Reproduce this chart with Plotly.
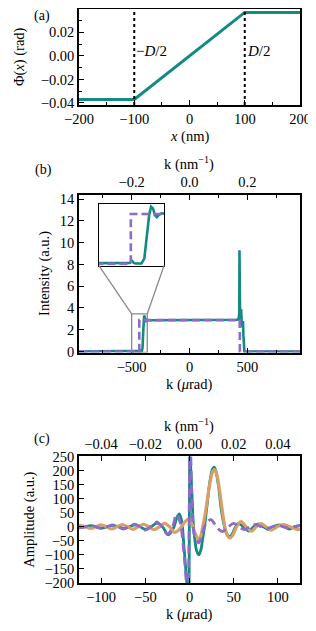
import plotly.graph_objects as go

# ---------------- data ----------------
# (a) phase profile
D_nm = 200
x_a = [-200, -100, 100, 200]
phi_a = [-0.037, -0.037, 0.037, 0.037]

# (b) intensity vs k (µrad)
k_b_teal = [-955, -440, -436, -432, -428, -424, -412, -406, -400, -396, -392, -388, -384,
            -380, -375, -370, -360, 0, 400, 415, 425, 430, 432, 434, 438, 442, 446, 449,
            452, 456, 462, 466, 470, 474, 955]
I_b_teal = [0, 0.02, 0.05, 0.18, 0.05, 0.02, 0.02, 0.3, 1.8, 2.8, 3.3, 3.2, 2.8,
            2.7, 2.85, 2.92, 2.87, 2.87, 2.87, 2.92, 3.05, 3.5, 9.3, 3.0, 2.2, 2.6, 3.9, 3.2,
            2.4, 2.6, 2.8, 1.5, 0.2, 0, 0]
k_b_purple = [-955, -434, -434, 435, 435, 955]
I_b_purple = [0, 0, 2.88, 2.88, 0, 0]

# (c) amplitude vs k (µrad)
k_c_teal = [-125, -118, -112, -105.5, -99, -93, -87, -80.5, -74, -68, -62, -56, -50, -43.5,
            -37, -30.5, -24, -17.5, -14, -11.5, -9.5, -8, -6.5, -5, -3.5, -2, -1, 0.5, 1, 2,
            3, 4.5, 6, 8, 10.5, 13, 15, 17, 20, 23, 26, 28, 30, 33, 36, 39.5, 42, 45, 48, 51,
            55, 61, 67, 72.5, 78, 83.5, 89, 95, 101, 107, 113, 119, 125]
A_c_teal = [-3, 0, 4, 0, -5, 0, 5, 0, -6, 0, 7, 0, -9, 0,
            13, 0, -29, 0, 35, 46, 30, 0, -60, -120, -180, -240, -400, 400, 240, 170,
            100, 0, -45, -85, -100, -80, -40, 0, 80, 160, 205, 212, 195, 140, 60, 0, -25, -35, -28, -8,
            12, 0, -15, 0, 10, 0, -10, 0, 7, 0, -8, 0, 5]

k_c_orange = [-125, -118, -112, -106, -100, -94, -88, -82, -76, -70, -64, -58, -52, -46, -40,
              -34, -28, -22.5, -17, -13, -9, -5, -1, 2.5, 6, 10.5, 13, 15, 18, 21, 24, 26.5,
              28.5, 31, 34, 37, 40, 43, 46, 49, 52.5, 55, 58.5, 64, 70, 75.5, 81, 86.5, 92,
              99, 106, 114, 122, 125]
A_c_orange = [5, 0, -6, 0, 7, 0, -8, 0, 8, 0, -9, 0, 9, 0, -10,
              0, 12, 0, -20, -14, 0, 18, 27, 12, -20, -47, -30, 0, 50, 115, 170, 198,
              203, 185, 130, 60, 0, -32, -40, -30, -5, 10, 18, 0, -16, 0, 11, 0, -12,
              0, 8, 0, -10, -8]

k_c_purple = [-125, -118.5, -112, -106, -100, -93.5, -87, -81, -75, -68.5, -62, -56, -50, -43.5,
              -37, -31, -25, -19, -15, -12, -9.5, -7, -5, -3.5, -2, 0.8, 1.5, 2.5, 4, 6, 8.5,
              10.5, 13, 17, 21, 24.5, 28, 31, 34, 37.5, 41, 44, 50, 56, 62, 68.5, 75, 81, 87,
              93.5, 100, 106, 112, 118.5, 125]
A_c_purple = [-4, 0, 5, 0, -6, 0, 7, 0, -8, 0, 9, 0, -12, 0,
              17, 0, -27, 0, 44, 30, 0, -70, -140, -210, -400, 400, 250, 120, 0, -35, -52,
              -57, -40, 0, 20, 25, 12, 0, -12, -17, -8, 0, 12, 0, -10, 0, 8, 0, -7,
              0, 6, 0, -5, 0, 4]

# axis settings / conversion
wavelength_nm = 0.0025      # k[nm^-1] = k[µrad]*1e-6 / wavelength_nm
urad_per_invnm = 1e6 * wavelength_nm
xr_a = [-200, 200]
yr_a = [-0.0417, 0.0399]
xr_b = [-955, 955]
yr_b = [-0.1, 14.4]
inset_x = [-500, -365]
inset_y = [-0.1, 3.46]
xr_c = [-125, 125]
yr_c = [-200, 250]

TEAL = "#138a82"
PURPLE = "#8c6bcc"
ORANGE = "#d8a068"
FONT = "Liberation Serif"

# The page body adds an 8 px offset; build the figure in page pixels minus it.
OFF = 8
W, H = 316 - OFF, 631 - OFF
PL, PR, PT, PB = 79 - OFF, 300.5 - OFF, 9 - OFF, 583.3 - OFF   # plot-area box

def dom_x(a, b):   # page pixels -> domain
    return [(a - OFF - PL) / (PR - PL), (b - OFF - PL) / (PR - PL)]
def dom_y(top, bottom):
    return [(PB - (bottom - OFF)) / (PB - PT), (PB - (top - OFF)) / (PB - PT)]
def paper_x(px):
    return (px - OFF - PL) / (PR - PL)
def paper_y(py):
    return (PB - (py - OFF)) / (PB - PT)

dx = dom_x(79, 300.5)
dy_a = dom_y(9, 105)
dy_b = dom_y(195, 352.7)
dy_c = dom_y(456.7, 583.3)
dx_in = dom_x(99, 164.3)
dy_in = dom_y(204, 265.7)

fig = go.Figure()

# (a)
fig.add_trace(go.Scatter(x=x_a, y=phi_a, mode="lines", line=dict(color=TEAL, width=3),
                         xaxis="x", yaxis="y", showlegend=False))
# (b) main + inset
for xa, ya in (("x2", "y2"), ("x4", "y4")):
    fig.add_trace(go.Scatter(x=k_b_teal, y=I_b_teal, mode="lines", line=dict(color=TEAL, width=2.6),
                             xaxis=xa, yaxis=ya, showlegend=False))
    fig.add_trace(go.Scatter(x=k_b_purple, y=I_b_purple, mode="lines",
                             line=dict(color=PURPLE, width=2.6, dash="8px,4px"),
                             xaxis=xa, yaxis=ya, showlegend=False))
# top axis helper for (b)
fig.add_trace(go.Scatter(x=[v / urad_per_invnm for v in xr_b], y=[0, 0], mode="lines",
                         line=dict(width=0), opacity=0, hoverinfo="skip",
                         xaxis="x3", yaxis="y2", showlegend=False))
# (c)
fig.add_trace(go.Scatter(x=k_c_teal, y=A_c_teal, mode="lines",
                         line=dict(color=TEAL, width=2.8, shape="spline", smoothing=0.8),
                         xaxis="x5", yaxis="y5", showlegend=False))
fig.add_trace(go.Scatter(x=k_c_orange, y=A_c_orange, mode="lines",
                         line=dict(color=ORANGE, width=3.2, shape="spline", smoothing=0.8),
                         xaxis="x5", yaxis="y5", showlegend=False))
fig.add_trace(go.Scatter(x=k_c_purple, y=A_c_purple, mode="lines",
                         line=dict(color=PURPLE, width=2.8, dash="9px,5px", shape="spline", smoothing=0.8),
                         xaxis="x5", yaxis="y5", showlegend=False))
fig.add_trace(go.Scatter(x=[v / urad_per_invnm for v in xr_c], y=[0, 0], mode="lines",
                         line=dict(width=0), opacity=0, hoverinfo="skip",
                         xaxis="x6", yaxis="y5", showlegend=False))

FS = 14.5
tickfont = dict(family=FONT, size=FS, color="black")
common = dict(showgrid=False, zeroline=False, showline=True, linecolor="black", linewidth=1.5,
              ticks="inside", ticklen=5, tickwidth=1, tickcolor="black", tickfont=tickfont,
              automargin=False)

fig.update_layout(
    width=W, height=H, autosize=False,
    margin=dict(l=PL, r=W - PR, t=PT, b=H - PB, pad=0),
    paper_bgcolor="white", plot_bgcolor="white",
    xaxis=dict(**common, domain=dx, anchor="y", range=xr_a, dtick=100, mirror=True,
               minor=dict(ticks="inside", ticklen=3, dtick=50, tickcolor="black")),
    yaxis=dict(**common, domain=dy_a, anchor="x", range=yr_a, dtick=0.02, tickformat=".2f", mirror=True,
               minor=dict(ticks="inside", ticklen=3, dtick=0.01, tickcolor="black")),
    xaxis2=dict(**common, domain=dx, anchor="y2", range=xr_b, dtick=500, mirror=True,
                minor=dict(ticks="inside", ticklen=3, dtick=250, tickcolor="black")),
    yaxis2=dict(**common, domain=dy_b, anchor="x2", range=yr_b, dtick=2, mirror=True),
    xaxis3=dict(**common, overlaying="x2", anchor="y2", side="top",
                range=[v / urad_per_invnm for v in xr_b], dtick=0.2, tickformat=".1f",
                minor=dict(ticks="inside", ticklen=3, dtick=0.1, tickcolor="black")),
    xaxis4=dict(domain=dx_in, anchor="y4", range=inset_x, showgrid=False, zeroline=False,
                showline=True, mirror=True, linecolor="black", linewidth=1.2,
                showticklabels=False, ticks="", automargin=False),
    yaxis4=dict(domain=dy_in, anchor="x4", range=inset_y, showgrid=False, zeroline=False,
                showline=True, mirror=True, linecolor="black", linewidth=1.2,
                showticklabels=False, ticks="", automargin=False),
    xaxis5=dict(**common, domain=dx, anchor="y5", range=xr_c, dtick=50, mirror=True),
    yaxis5=dict(**common, domain=dy_c, anchor="x5", range=yr_c, dtick=50, mirror=True),
    xaxis6=dict(**common, overlaying="x5", anchor="y5", side="top",
                range=[v / urad_per_invnm for v in xr_c], dtick=0.02, tickformat=".2f"),
)

# axis titles (page-pixel centres)
titles = [
    ("Φ(<i>x</i>) (rad)", 20, 57, -90),
    ("<i>x</i> (nm)", 189.5, 137, 0),
    ("k (nm<sup>−1</sup>)", 189.5, 164, 0),
    ("Intensity (a.u.)", 45, 274, -90),
    ("k (<i>μ</i>rad)", 189.5, 385, 0),
    ("k (nm<sup>−1</sup>)", 189.5, 426, 0),
    ("Amplitude (a.u.)", 30, 520, -90),
    ("k (<i>μ</i>rad)", 189.5, 615, 0),
]
for txt, xp, yp, ang in titles:
    fig.add_annotation(x=paper_x(xp), y=paper_y(yp), xref="paper", yref="paper", text=txt,
                       showarrow=False, xanchor="center", yanchor="middle", textangle=ang,
                       font=dict(family=FONT, size=FS, color="black"))

# dotted lines at ±D/2 in (a)
for xv in (-D_nm / 2, D_nm / 2):
    fig.add_shape(type="line", xref="x", yref="y domain", x0=xv, x1=xv, y0=0, y1=1,
                  line=dict(color="black", width=2, dash="dot"))
fig.add_annotation(x=-D_nm / 2, y=0.004, xref="x", yref="y", text="−<i>D</i>/2", showarrow=False,
                   xanchor="left", font=dict(family=FONT, size=15, color="black"))
fig.add_annotation(x=D_nm / 2, y=0.004, xref="x", yref="y", text="<i>D</i>/2", showarrow=False,
                   xanchor="left", font=dict(family=FONT, size=15, color="black"))

# zoom rectangle and connectors in (b)
GRAY = "#8a8a8a"
fig.add_shape(type="rect", xref="x2", yref="y2", x0=inset_x[0], x1=inset_x[1],
              y0=inset_y[0], y1=inset_y[1], line=dict(color=GRAY, width=1.3))
def bx(v):
    return dx[0] + (v - xr_b[0]) / (xr_b[1] - xr_b[0]) * (dx[1] - dx[0])
def by(v):
    return dy_b[0] + (v - yr_b[0]) / (yr_b[1] - yr_b[0]) * (dy_b[1] - dy_b[0])
fig.add_shape(type="line", xref="paper", yref="paper", x0=dx_in[0], y0=dy_in[0],
              x1=bx(inset_x[0]), y1=by(inset_y[1]), line=dict(color=GRAY, width=1.3))
fig.add_shape(type="line", xref="paper", yref="paper", x0=dx_in[1], y0=dy_in[0],
              x1=bx(inset_x[1]), y1=by(inset_y[1]), line=dict(color=GRAY, width=1.3))

# panel labels (the top one is kept just inside the page)
for lab, xp, yp in (("(a)", 42, 16.5), ("(b)", 43, 170), ("(c)", 42, 439)):
    fig.add_annotation(x=paper_x(xp), y=paper_y(yp), xref="paper", yref="paper", text=lab,
                       showarrow=False, xanchor="center", yanchor="middle",
                       font=dict(family=FONT, size=14, color="black"))

fig.write_html("out.html")
